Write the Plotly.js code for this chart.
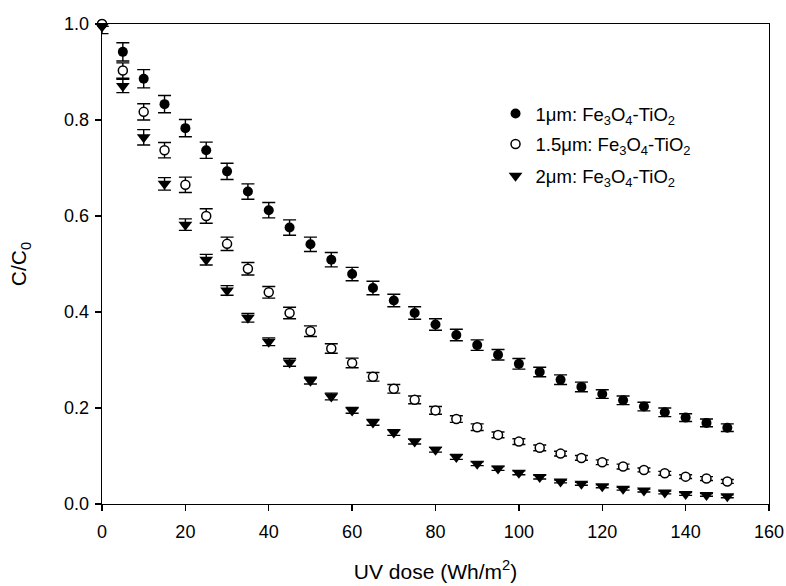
<!DOCTYPE html>
<html>
<head>
<meta charset="utf-8">
<script src="https://cdn.plot.ly/plotly-3.0.1.min.js"></script>
<style>html,body{margin:0;padding:0;background:#fff;}#chart{width:786px;height:586px;}</style>
</head>
<body>
<div id="chart"></div>
<script>
const uvDose = [0,5,10,15,20,25,30,35,40,45,50,55,60,65,70,75,80,85,90,95,100,105,110,115,120,125,130,135,140,145,150];

const c1um = [1.000,0.942,0.886,0.833,0.783,0.737,0.693,0.651,0.612,0.576,0.541,0.509,0.479,0.450,0.424,0.398,0.374,0.352,0.331,0.311,0.292,0.275,0.259,0.244,0.229,0.216,0.203,0.191,0.180,0.169,0.159];
const err1um = [0.005,0.019,0.019,0.018,0.018,0.017,0.017,0.016,0.016,0.016,0.015,0.015,0.014,0.014,0.013,0.013,0.012,0.012,0.011,0.011,0.011,0.010,0.010,0.010,0.009,0.009,0.009,0.009,0.008,0.008,0.008];

const c15um = [1.000,0.903,0.817,0.737,0.665,0.600,0.542,0.490,0.441,0.398,0.360,0.324,0.294,0.265,0.240,0.217,0.195,0.177,0.160,0.144,0.130,0.117,0.105,0.096,0.087,0.078,0.071,0.064,0.057,0.053,0.047];
const err15um = [0.005,0.016,0.017,0.016,0.016,0.015,0.014,0.013,0.012,0.012,0.011,0.010,0.010,0.009,0.009,0.008,0.008,0.007,0.007,0.006,0.006,0.006,0.005,0.005,0.005,0.005,0.004,0.004,0.004,0.004,0.004];

const c2um = [0.995,0.871,0.764,0.667,0.582,0.509,0.445,0.388,0.338,0.295,0.257,0.224,0.195,0.170,0.149,0.130,0.113,0.098,0.084,0.074,0.065,0.056,0.047,0.042,0.037,0.032,0.028,0.024,0.021,0.019,0.016];
const err2um = [0.015,0.014,0.016,0.013,0.012,0.011,0.010,0.009,0.008,0.008,0.007,0.007,0.006,0.006,0.006,0.005,0.005,0.005,0.004,0.004,0.004,0.004,0.003,0.003,0.003,0.003,0.003,0.003,0.003,0.003,0.003];

const seriesNames = [
  "1μm: Fe<sub>3</sub>O<sub>4</sub>-TiO<sub>2</sub>",
  "1.5μm: Fe<sub>3</sub>O<sub>4</sub>-TiO<sub>2</sub>",
  "2μm: Fe<sub>3</sub>O<sub>4</sub>-TiO<sub>2</sub>"
];

const FONT = "Arial, 'Liberation Sans', sans-serif";

function errBar(arr){
  return {type:'data', array:arr, visible:true, color:'#000', thickness:1.4, width:6.5};
}

const traces = [
  {x:uvDose, y:c1um, name:seriesNames[0], type:'scatter', mode:'markers', cliponaxis:false,
   marker:{symbol:'circle', size:10, color:'#000', line:{width:0}},
   error_y:errBar(err1um), legend:'legend'},
  {x:uvDose, y:c15um, name:seriesNames[1], type:'scatter', mode:'markers', cliponaxis:false,
   marker:{symbol:'circle', size:9, color:'#fff', line:{width:1.5, color:'#000'}},
   error_y:errBar(err15um), legend:'legend2'},
  {x:uvDose, y:c2um, name:seriesNames[2], type:'scatter', mode:'markers', cliponaxis:false,
   marker:{symbol:'triangle-down', size:12, color:'#000', line:{width:0}},
   error_y:errBar(err2um), legend:'legend3'}
];

function leg(y){
  return {x:0.59, y:y, xanchor:'left', yanchor:'middle', bgcolor:'rgba(0,0,0,0)', borderwidth:0,
          font:{family:FONT, size:18.5, color:'#000'}};
}

const layout = {
  width:786, height:586,
  margin:{l:102, r:17, t:24, b:82},
  paper_bgcolor:'#fff', plot_bgcolor:'#fff',
  font:{family:FONT, color:'#000'},
  showlegend:true,
  legend:leg(0.8125),
  legend2:leg(0.749),
  legend3:leg(0.683),
  xaxis:{
    range:[0,160], dtick:20, tick0:0, showgrid:false, zeroline:false,
    showline:true, linecolor:'#000', linewidth:1.3, mirror:true,
    ticks:'outside', ticklen:6, tickwidth:1.3, tickcolor:'#000',
    ticklabelstandoff:5,
    tickfont:{family:FONT, size:18, color:'#000'},
    title:{text:'UV dose (Wh/m<sup>2</sup>)', font:{family:FONT, size:21, color:'#000'}, standoff:23},
    automargin:false
  },
  yaxis:{
    range:[0,1.0], dtick:0.2, tick0:0, tickformat:'.1f', showgrid:false, zeroline:false,
    showline:true, linecolor:'#000', linewidth:1.3, mirror:true,
    ticks:'outside', ticklen:6, tickwidth:1.3, tickcolor:'#000',
    ticklabelstandoff:2,
    tickfont:{family:FONT, size:18, color:'#000'},
    title:{text:'C/C<sub>0</sub>', font:{family:FONT, size:21, color:'#000'}, standoff:31},
    automargin:false
  }
};

Plotly.newPlot('chart', traces, layout, {displayModeBar:false, staticPlot:true});
</script>
</body>
</html>
